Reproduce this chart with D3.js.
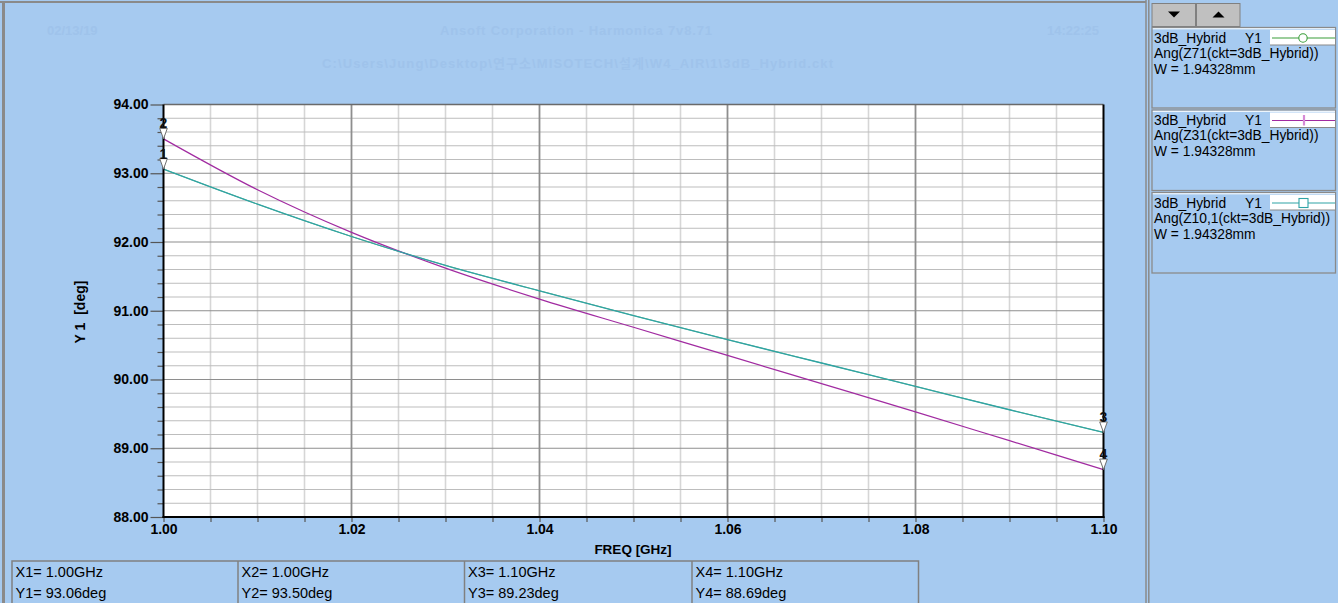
<!DOCTYPE html>
<html>
<head>
<meta charset="utf-8">
<script src="https://cdn.jsdelivr.net/npm/d3@7"></script>
<style>
  html, body { margin: 0; padding: 0; background: #A6CAF0; overflow: hidden; }
  svg { display: block; font-family: "Liberation Sans", Arial, "Noto Sans CJK KR", sans-serif; }
</style>
</head>
<body>
<svg id="chart" width="1338" height="603"></svg>
<script>
// Frequency sweep (GHz)
const freq = [1.00, 1.01, 1.02, 1.03, 1.04, 1.05, 1.06, 1.07, 1.08, 1.09, 1.10];
// Phase of Z71 (deg) – coincides with Z10,1
const angZ71 = [93.06, 92.55, 92.08, 91.66, 91.29, 90.93, 90.58, 90.24, 89.90, 89.56, 89.23];
// Phase of Z31 (deg)
const angZ31 = [93.50, 92.76, 92.14, 91.62, 91.17, 90.76, 90.35, 89.94, 89.53, 89.11, 88.69];
// Phase of Z10,1 (deg)
const angZ101 = [93.06, 92.55, 92.08, 91.66, 91.29, 90.93, 90.58, 90.24, 89.90, 89.56, 89.23];

// Axis ticks
const xMajorTicks = [1.00, 1.02, 1.04, 1.06, 1.08, 1.10];
const xTickLabels = ["1.00", "1.02", "1.04", "1.06", "1.08", "1.10"];
const yMajorTicks = [88, 89, 90, 91, 92, 93, 94];
const yTickLabels = ["88.00", "89.00", "90.00", "91.00", "92.00", "93.00", "94.00"];

// Markers
const markerIds = ["1", "2", "3", "4"];
const markerFreq = [1.00, 1.00, 1.10, 1.10];
const markerVal = [93.06, 93.50, 89.23, 88.69];
const markerFreqText = ["1.00GHz", "1.00GHz", "1.10GHz", "1.10GHz"];
const markerValText = ["93.06deg", "93.50deg", "89.23deg", "88.69deg"];

// Legend entries
const legendCkt = ["3dB_Hybrid", "3dB_Hybrid", "3dB_Hybrid"];
const legendAxis = ["Y1", "Y1", "Y1"];
const legendExpr = ["Ang(Z71(ckt=3dB_Hybrid))", "Ang(Z31(ckt=3dB_Hybrid))", "Ang(Z10,1(ckt=3dB_Hybrid))"];
const legendParam = ["W = 1.94328mm", "W = 1.94328mm", "W = 1.94328mm"];

const C_BG = "#A6CAF0";
const C_GREEN = "#3A9E3A";
const C_PURPLE = "#A12BA1";
const C_TEAL = "#2FA3A6";
const C_FAINT = "#9FC3EB";

const svg = d3.select("#chart");
svg.append("rect").attr("width", 1338).attr("height", 603).attr("fill", C_BG);

// window frame
svg.append("line").attr("x1", 0).attr("x2", 1146).attr("y1", 2).attr("y2", 2)
  .attr("stroke", "#8a8a8a").attr("stroke-width", 2);
svg.append("line").attr("x1", 3.5).attr("x2", 3.5).attr("y1", 2).attr("y2", 603)
  .attr("stroke", "#8a8a8a").attr("stroke-width", 3);

// header (faint)
const header = svg.append("g").attr("fill", C_FAINT).attr("font-weight", "bold").attr("font-size", 13);
header.append("text").attr("x", 47).attr("y", 35).text("02/13/19");
header.append("text").attr("x", 440).attr("y", 35).attr("textLength", 272).text("Ansoft Corporation - Harmonica 7v8.71");
header.append("text").attr("x", 1047).attr("y", 35).text("14:22:25");
header.append("text").attr("x", 322).attr("y", 68).attr("textLength", 511)
  .text("C:\\Users\\Jung\\Desktop\\연구소\\MISOTECH\\설계\\W4_AIR\\1\\3dB_Hybrid.ckt");

// scales
const L = 163.5, R = 1103.5, T = 104.5, B = 517;
const x = d3.scaleLinear().domain([1.00, 1.10]).range([L, R]);
const y = d3.scaleLinear().domain([88, 94]).range([B, T]);

// plot area
svg.append("rect").attr("x", L).attr("y", T).attr("width", R - L).attr("height", B - T).attr("fill", "#fff");

const xMinor = d3.range(0, 21).map(i => 1 + i * 0.005).filter((d, i) => i % 4 !== 0);
const xMajorInner = xMajorTicks.slice(1, -1);
const yMinor = d3.range(0, 31).map(i => 88 + i * 0.2).filter((d, i) => i % 5 !== 0);
const yMajorInner = yMajorTicks.slice(1, -1);

const grid = svg.append("g");
grid.selectAll(".vmin").data(xMinor).join("line")
  .attr("x1", d => x(d)).attr("x2", d => x(d)).attr("y1", T).attr("y2", B)
  .attr("stroke", "#d6d6d6").attr("stroke-width", 1.6);
grid.selectAll(".hmin").data(yMinor).join("line")
  .attr("x1", L).attr("x2", R).attr("y1", d => y(d)).attr("y2", d => y(d))
  .attr("stroke", "#bdbdbd").attr("stroke-width", 1);
grid.selectAll(".hmaj").data(yMajorInner).join("line")
  .attr("x1", L).attr("x2", R).attr("y1", d => y(d)).attr("y2", d => y(d))
  .attr("stroke", "#8e8e8e").attr("stroke-width", 1.2);
grid.selectAll(".vmaj").data(xMajorInner).join("line")
  .attr("x1", d => x(d)).attr("x2", d => x(d)).attr("y1", T).attr("y2", B)
  .attr("stroke", "#8e8e8e").attr("stroke-width", 1.8);

// curves (Z71 lies underneath Z10,1)
const lineGen = vals => d3.line()
  .x((d, i) => x(freq[i])).y(d => y(d)).curve(d3.curveMonotoneX)(vals);
svg.append("path").attr("d", lineGen(angZ71)).attr("fill", "none").attr("stroke", C_GREEN).attr("stroke-width", 0.7);
svg.append("path").attr("d", lineGen(angZ31)).attr("fill", "none").attr("stroke", C_PURPLE).attr("stroke-width", 1.2);
svg.append("path").attr("d", lineGen(angZ101)).attr("fill", "none").attr("stroke", C_TEAL).attr("stroke-width", 1.3);

// plot border
svg.append("line").attr("x1", L).attr("x2", R).attr("y1", T).attr("y2", T).attr("stroke", "#6a6a6a").attr("stroke-width", 1.5);

// axes
const yAxis = d3.axisLeft(y).tickValues(yMajorTicks).tickSize(13).tickPadding(2)
  .tickFormat(d => yTickLabels[yMajorTicks.indexOf(d)]);
const yAxisMinor = d3.axisLeft(y).tickValues(yMinor).tickSize(6).tickFormat("");
const xAxis = d3.axisBottom(x).tickValues(xMajorTicks).tickSize(5).tickPadding(2)
  .tickFormat(d => xTickLabels[xMajorTicks.indexOf(d)]);
const xAxisMinor = d3.axisBottom(x).tickValues(xMinor).tickSize(5).tickFormat("");

function styleAxis(g) {
  g.select(".domain").remove();
  g.selectAll(".tick line").attr("stroke", "#555").attr("stroke-width", 1.2);
  g.selectAll(".tick text").attr("fill", "#000").attr("font-size", 14).attr("font-weight", "bold")
    .attr("font-family", "'Liberation Sans', Arial, sans-serif");
}
svg.append("g").attr("transform", `translate(${L},0)`).call(yAxisMinor).call(styleAxis);
svg.append("g").attr("transform", `translate(${L},0)`).call(yAxis).call(styleAxis);
svg.append("g").attr("transform", `translate(0,${B})`).call(xAxisMinor).call(styleAxis);
svg.append("g").attr("transform", `translate(0,${B})`).call(xAxis).call(styleAxis);

svg.append("line").attr("x1", L).attr("x2", L).attr("y1", T).attr("y2", B + 1).attr("stroke", "#000").attr("stroke-width", 2);
svg.append("line").attr("x1", R).attr("x2", R).attr("y1", T).attr("y2", B + 1).attr("stroke", "#000").attr("stroke-width", 2);
svg.append("line").attr("x1", L - 1).attr("x2", R + 1).attr("y1", B).attr("y2", B).attr("stroke", "#000").attr("stroke-width", 2);

// axis titles
svg.append("text").attr("x", 633).attr("y", 554).attr("text-anchor", "middle")
  .attr("font-size", 13.5).attr("font-weight", "bold").text("FREQ [GHz]");
svg.append("text").attr("transform", "translate(85,312) rotate(-90)").attr("text-anchor", "middle")
  .attr("font-size", 14).attr("font-weight", "bold").attr("xml:space", "preserve").text("Y 1  [deg]");

// markers
const mk = svg.append("g");
markerIds.forEach((id, i) => {
  const px = x(markerFreq[i]), py = y(markerVal[i]);
  mk.append("path").attr("d", `M${px},${py} L${px - 3.8},${py - 10.5} L${px + 3.8},${py - 10.5} Z`)
    .attr("fill", "#fff").attr("stroke", "#6f6f6f").attr("stroke-width", 1);
  mk.append("text").attr("x", px).attr("y", py - 10.5).attr("text-anchor", "middle")
    .attr("font-size", 14).attr("font-weight", "bold").attr("fill", "#111").text(id);
});

// legend panel
svg.append("line").attr("x1", 1146).attr("x2", 1146).attr("y1", 0).attr("y2", 603).attr("stroke", "#8a8a8a").attr("stroke-width", 1.5);
svg.append("line").attr("x1", 1148.8).attr("x2", 1148.8).attr("y1", 0).attr("y2", 603).attr("stroke", "#8a8a8a").attr("stroke-width", 1.5);

// scroll buttons
[[1152, "down"], [1196.5, "up"]].forEach(([bx, dir]) => {
  svg.append("rect").attr("x", bx).attr("y", 3.5).attr("width", 43.5).attr("height", 23)
    .attr("fill", "#C0C0C0").attr("stroke", "#808080").attr("stroke-width", 1);
  const cx = bx + 22, cy = 14.5;
  const tri = dir === "down"
    ? `M${cx - 6},${cy - 3} L${cx + 6},${cy - 3} L${cx},${cy + 3} Z`
    : `M${cx - 6},${cy + 3} L${cx + 6},${cy + 3} L${cx},${cy - 3} Z`;
  svg.append("path").attr("d", tri).attr("fill", "#000");
});

const legendColors = [C_GREEN, C_PURPLE, C_TEAL];
const legendSym = ["circle", "tick", "square"];
legendCkt.forEach((ckt, i) => {
  const top = 27.5 + i * 82.5;
  const g = svg.append("g");
  g.append("rect").attr("x", 1152).attr("y", top).attr("width", 183.5).attr("height", 80.5)
    .attr("fill", C_BG).attr("stroke", "#8a8a8a").attr("stroke-width", 1.3);
  g.append("line").attr("x1", 1152.8).attr("x2", 1335).attr("y1", top + 1.3).attr("y2", top + 1.3)
    .attr("stroke", "#fff").attr("stroke-width", 1);
  g.append("text").attr("x", 1154).attr("y", top + 15).attr("font-size", 13.8).text(ckt);
  g.append("text").attr("x", 1245).attr("y", top + 15).attr("font-size", 13.8).text(legendAxis[i]);
  g.append("text").attr("x", 1154).attr("y", top + 30).attr("font-size", 13.8).text(legendExpr[i]);
  g.append("text").attr("x", 1154).attr("y", top + 46).attr("font-size", 13.8).text(legendParam[i]);
  // line sample
  const sy = top + 10.5;
  g.append("rect").attr("x", 1270).attr("y", top + 2.5).attr("width", 65).attr("height", 15).attr("fill", "#fff");
  g.append("line").attr("x1", 1270).attr("x2", 1335).attr("y1", top + 17.5).attr("y2", top + 17.5)
    .attr("stroke", "#8a8a8a").attr("stroke-width", 1.2);
  g.append("line").attr("x1", 1272).attr("x2", 1335).attr("y1", sy).attr("y2", sy)
    .attr("stroke", legendColors[i]).attr("stroke-width", 1.2);
  if (legendSym[i] === "circle") {
    g.append("circle").attr("cx", 1303).attr("cy", sy).attr("r", 4.2).attr("fill", "#fff")
      .attr("stroke", legendColors[i]).attr("stroke-width", 1.1);
  } else if (legendSym[i] === "tick") {
    g.append("line").attr("x1", 1304).attr("x2", 1304).attr("y1", sy - 5.5).attr("y2", sy + 5)
      .attr("stroke", "#D68BD6").attr("stroke-width", 2.2);
  } else {
    g.append("rect").attr("x", 1299).attr("y", sy - 4.5).attr("width", 9).attr("height", 9).attr("fill", "#fff")
      .attr("stroke", legendColors[i]).attr("stroke-width", 1.1);
  }
});

// marker readout table
const tbl = svg.append("g");
const colX = [12, 238, 464.5, 692, 918.5];
tbl.append("rect").attr("x", colX[0]).attr("y", 561).attr("width", colX[4] - colX[0]).attr("height", 60)
  .attr("fill", "none").attr("stroke", "#808080").attr("stroke-width", 1.5);
colX.slice(1, 4).forEach(cx => tbl.append("line").attr("x1", cx).attr("x2", cx).attr("y1", 561).attr("y2", 603)
  .attr("stroke", "#808080").attr("stroke-width", 1.5));
markerIds.forEach((id, i) => {
  tbl.append("text").attr("x", colX[i] + 3.5).attr("y", 577).attr("font-size", 14.5).text(`X${id}= ${markerFreqText[i]}`);
  tbl.append("text").attr("x", colX[i] + 3.5).attr("y", 598).attr("font-size", 14.5).text(`Y${id}= ${markerValText[i]}`);
});
</script>
</body>
</html>
